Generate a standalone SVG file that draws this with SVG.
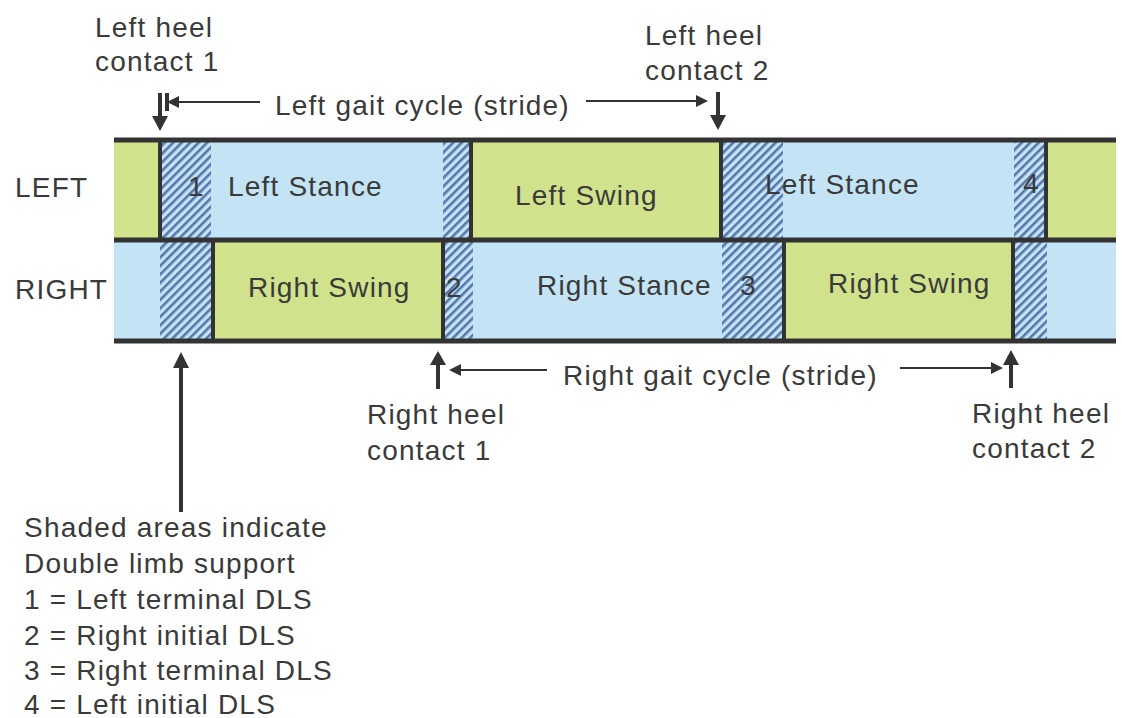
<svg xmlns="http://www.w3.org/2000/svg" width="1122" height="718" viewBox="0 0 1122 718">
<defs>
<style>
text{font-family:"Liberation Sans",Arial,sans-serif;font-size:28px;fill:#3a3a3a;letter-spacing:1.2px}
.g{fill:#d1e28c}
.b{fill:#c4e4f5}
.h{fill:url(#hatch)}
.sep{stroke:#333;stroke-width:4}
.hl{stroke:#333;stroke-width:5}
.ar{stroke:#333;stroke-width:2;fill:none}
.ar4{stroke:#333;stroke-width:4;fill:none}
.hd{fill:#333}
</style>
<pattern id="hatch" patternUnits="userSpaceOnUse" width="6" height="6" patternTransform="rotate(45)">
<rect width="6" height="6" fill="#c4e4f5"/>
<rect width="2.6" height="6" fill="#5677ad"/>
</pattern>
</defs>
<rect width="1122" height="718" fill="#fff"/>

<g id="left-row">
<rect class="g" x="114" y="140" width="46" height="100"/>
<rect class="h" x="160" y="140" width="51" height="100"/>
<rect class="b" x="211" y="140" width="232" height="100"/>
<rect class="h" x="443" y="140" width="28" height="100"/>
<rect class="g" x="471" y="140" width="250" height="100"/>
<rect class="h" x="721" y="140" width="62" height="100"/>
<rect class="b" x="783" y="140" width="231" height="100"/>
<rect class="h" x="1014" y="140" width="32" height="100"/>
<rect class="g" x="1046" y="140" width="70" height="100"/>
</g>
<g id="right-row">
<rect class="b" x="114" y="240" width="46" height="101"/>
<rect class="h" x="160" y="240" width="53" height="101"/>
<rect class="g" x="213" y="240" width="230" height="101"/>
<rect class="h" x="443" y="240" width="30" height="101"/>
<rect class="b" x="473" y="240" width="249" height="101"/>
<rect class="h" x="722" y="240" width="62" height="101"/>
<rect class="g" x="784" y="240" width="229" height="101"/>
<rect class="h" x="1013" y="240" width="34" height="101"/>
<rect class="b" x="1047" y="240" width="69" height="101"/>
</g>
<g id="grid-lines">
<line class="sep" x1="160" y1="140" x2="160" y2="240"/>
<line class="sep" x1="471" y1="140" x2="471" y2="240"/>
<line class="sep" x1="721" y1="140" x2="721" y2="240"/>
<line class="sep" x1="1046" y1="140" x2="1046" y2="240"/>
<line class="sep" x1="213" y1="240" x2="213" y2="341"/>
<line class="sep" x1="443" y1="240" x2="443" y2="341"/>
<line class="sep" x1="784" y1="240" x2="784" y2="341"/>
<line class="sep" x1="1013" y1="240" x2="1013" y2="341"/>
<line class="hl" x1="114" y1="140" x2="1116" y2="140"/>
<line class="hl" x1="114" y1="240" x2="1116" y2="240"/>
<line class="hl" x1="114" y1="341" x2="1116" y2="341"/>
</g>

<g id="bar-labels">
<text x="15" y="197">LEFT</text>
<text x="15" y="299">RIGHT</text>
<text x="188" y="196">1</text>
<text x="228" y="196">Left Stance</text>
<text x="515" y="205">Left Swing</text>
<text x="765" y="194">Left Stance</text>
<text x="1023" y="193">4</text>
<text x="248" y="297">Right Swing</text>
<text x="446" y="297">2</text>
<text x="537" y="295">Right Stance</text>
<text x="740" y="295">3</text>
<text x="828" y="293">Right Swing</text>
</g>

<g id="top-labels">
<text x="95" y="37">Left heel</text>
<text x="95" y="71">contact 1</text>
<text x="645" y="45">Left heel</text>
<text x="645" y="80">contact 2</text>
<text x="275" y="115">Left gait cycle (stride)</text>
</g>
<g id="bottom-labels">
<text x="563" y="385">Right gait cycle (stride)</text>
<text x="367" y="424">Right heel</text>
<text x="367" y="460">contact 1</text>
<text x="972" y="423">Right heel</text>
<text x="972" y="458">contact 2</text>
</g>
<g id="legend">
<text x="24" y="537">Shaded areas indicate</text>
<text x="24" y="573">Double limb support</text>
<text x="24" y="609">1 = Left terminal DLS</text>
<text x="24" y="645">2 = Right initial DLS</text>
<text x="24" y="680">3 = Right terminal DLS</text>
<text x="24" y="714">4 = Left initial DLS</text>
</g>

<g id="connectors">
<line class="ar4" x1="160" y1="93" x2="160" y2="118"/>
<path class="hd" d="M152,116 L168,116 L160,131 z"/>
<line class="ar4" x1="167" y1="93" x2="167" y2="111"/>
<line class="ar" x1="177" y1="102" x2="260" y2="102"/>
<path class="hd" d="M167,102 L179,96 L179,108 z"/>
<line class="ar" x1="586" y1="101" x2="697" y2="101"/>
<path class="hd" d="M708,101 L696,95 L696,107 z"/>
<line class="ar4" x1="718" y1="92" x2="718" y2="117"/>
<path class="hd" d="M710,115 L726,115 L718,130 z"/>
<line class="ar4" x1="438" y1="389" x2="438" y2="363"/>
<path class="hd" d="M430,365 L446,365 L438,351 z"/>
<line class="ar" x1="459" y1="370" x2="547" y2="370"/>
<path class="hd" d="M449,370 L461,364 L461,376 z"/>
<line class="ar" x1="900" y1="368" x2="992" y2="368"/>
<path class="hd" d="M1003,368 L991,362 L991,374 z"/>
<line class="ar4" x1="1011" y1="388" x2="1011" y2="363"/>
<path class="hd" d="M1003,365 L1019,365 L1011,350 z"/>
<line class="ar4" x1="181" y1="512" x2="181" y2="366"/>
<path class="hd" d="M173,368 L189,368 L181,352 z"/>
</g>
</svg>
